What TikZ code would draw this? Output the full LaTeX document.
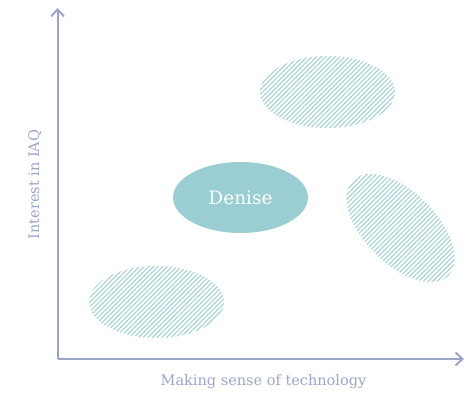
\documentclass[tikz,border=0pt]{standalone}
\usepackage{fontspec}
\setmainfont{DejaVu Serif}
\usepackage{xcolor}
\usetikzlibrary{arrows.meta,positioning,shapes.geometric,patterns.meta}

\definecolor{axisblue}{HTML}{9CA5C9}
\definecolor{tealfill}{HTML}{9ACED2}
\definecolor{tealhatch}{HTML}{A3D3D6}

\tikzset{
  axisline/.style={line width=2pt,axisblue,-{Straight Barb[length=7pt,width=13pt,line width=2pt]}},
  axislabel/.style={text=axisblue,font=\fontsize{14.5}{17}\selectfont},
  persona/.style={ellipse,fill=tealfill,text=white,minimum width=135pt,minimum height=71pt,font=\fontsize{18.5}{22}\selectfont},
  group/.style={ellipse,minimum width=135pt,minimum height=72pt,
    pattern={Lines[angle=45,distance=3.3pt,line width=1.1pt]},pattern color=tealhatch}
}

\begin{document}
\begin{tikzpicture}[x=1pt,y=1pt]
		\useasboundingbox (0,0) rectangle (471,392);
		% axes
		\coordinate (origin) at (57.5,33);
		\coordinate (y end) at (57.5,384);
		\coordinate (x end) at (464,33);
		\draw [axisline] (origin) -- (y end);
		\draw [axisline] (origin) -- (x end);
		\node[axislabel] (xlabel) at (263.5,10) {Making sense of technology};
		\node[axislabel,rotate=90] (ylabel) at (35,207.5) {Interest in IAQ};
		% hatched groups
		\node[group] (top group) at (327.5,300) {};
		\node[group] (low group) at (156.5,90) {};
		\node[group,rotate=-45] (right group) at (400.5,164) {};
		% persona
		\node[persona] (denise) at (240.5,194.5) {Denise};
	\end{tikzpicture}
\end{document}
